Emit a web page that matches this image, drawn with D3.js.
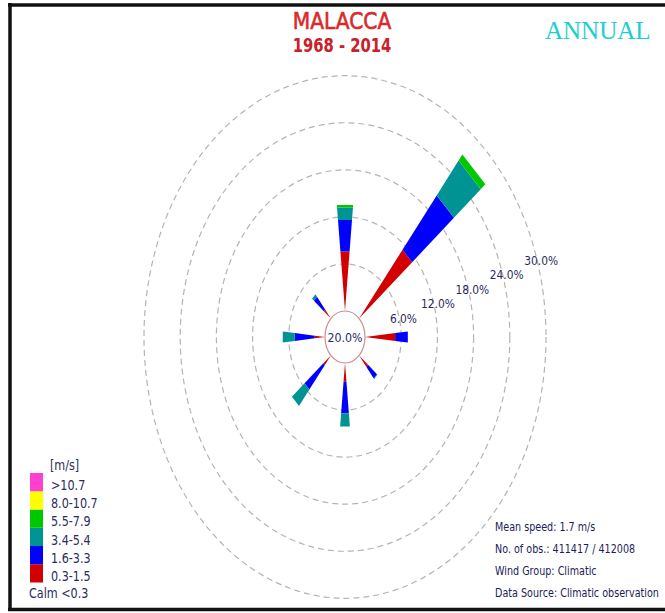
<!DOCTYPE html>
<html>
<head>
<meta charset="utf-8">
<script src="https://cdn.jsdelivr.net/npm/d3@7"></script>
<style>
body { margin: 0; background: #fff; }
svg text { font-family: "DejaVu Sans", Verdana, sans-serif; }
</style>
</head>
<body>
<svg id="rose" width="665" height="613"></svg>
<script>

// wind rose values: % of observations for each direction and speed class
var directions = ["N", "NE", "E", "SE", "S", "SW", "W", "NW"];
var dirAngles = [0, 45, 90, 135, 180, 225, 270, 315];
var speedClasses = ["0.3-1.5", "1.6-3.3", "3.4-5.4", "5.5-7.9", "8.0-10.7", ">10.7"];
var classColors = ["#d20000", "#0000ff", "#009393", "#00c800", "#ffff00", "#ff3fd0"];

var spd1 = [7.6, 11.3, 5.0, 1.9, 2.4, 1.6, 1.7, 1.5];   // 0.3-1.5
var spd2 = [4.0, 8.9, 2.1, 1.9, 4.0, 4.0, 3.3, 2.1];    // 1.6-3.3
var spd3 = [1.6, 5.7, 0.0, 0.1, 1.7, 2.7, 2.0, 0.4];    // 3.4-5.4
var spd4 = [0.3, 1.0, 0.0, 0.0, 0.0, 0.0, 0.0, 0.0];    // 5.5-7.9
var spd5 = [0, 0, 0, 0, 0, 0, 0, 0];                    // 8.0-10.7
var spd6 = [0, 0, 0, 0, 0, 0, 0, 0];                    // >10.7

var calmPct = 20.0;
var ringTicks = [6, 12, 18, 24, 30];
var infoLines = ["Mean speed: 1.7 m/s", "No. of obs.: 411417 / 412008", "Wind Group: Climatic", "Data Source: Climatic observation"];

var svg = d3.select("#rose");

var cx = 345, cy = 337;
var stretch = 1.3;      // picture is taller than wide
var spread = 0.1;       // wedge half width per unit of length

var r = d3.scaleLinear().domain([0, 30]).range([20, 201]);

// compress text horizontally, the source graphic is squeezed
function squeeze(sel, sx) {
    sel.each(function () {
        var t = d3.select(this);
        t.attr("transform", "translate(" + t.attr("x") + "," + t.attr("y") + ") scale(" + sx + ",1)")
            .attr("x", 0).attr("y", 0);
    });
}

// frame
svg.append("line").attr("x1", 10).attr("y1", 3).attr("x2", 10).attr("y2", 611)
    .style("stroke", "#111").style("stroke-width", 3.5);
svg.append("line").attr("x1", 8).attr("y1", 5).attr("x2", 665).attr("y2", 5)
    .style("stroke", "#111").style("stroke-width", 3.5);
svg.append("line").attr("x1", 8).attr("y1", 609.5).attr("x2", 665).attr("y2", 609.5)
    .style("stroke", "#111").style("stroke-width", 3.5);

// titles
svg.append("text").attr("x", 342).attr("y", 29).text("MALACCA")
    .attr("text-anchor", "middle").style("font-size", "23px").style("fill", "#d82a2a")
    .style("stroke", "#d82a2a").style("stroke-width", 0.6)
    .call(squeeze, 0.88);
svg.append("text").attr("x", 342).attr("y", 52).text("1968 - 2014")
    .attr("text-anchor", "middle").style("font-size", "20px").style("font-weight", "bold").style("fill", "#c92029")
    .call(squeeze, 0.74);
svg.append("text").attr("x", 545).attr("y", 39).text("ANNUAL")
    .style("font-family", "'Liberation Serif', 'Times New Roman', serif")
    .style("font-size", "25px").style("fill", "#1ccfcf");

// dashed rings
svg.selectAll("ellipse.ring")
    .data(ringTicks)
    .enter().append("ellipse")
    .attr("class", "ring")
    .attr("cx", cx).attr("cy", cy)
    .attr("rx", function (d) { return r(d); })
    .attr("ry", function (d) { return r(d) * stretch; })
    .style("fill", "none")
    .style("stroke", "#b4b4b4")
    .style("stroke-width", 1.2)
    .style("stroke-dasharray", "6,4");

// stacked wedges
var rows = directions.map(function (d, i) {
    var row = { dir: d, angle: dirAngles[i] };
    row[speedClasses[0]] = spd1[i];
    row[speedClasses[1]] = spd2[i];
    row[speedClasses[2]] = spd3[i];
    row[speedClasses[3]] = spd4[i];
    row[speedClasses[4]] = spd5[i];
    row[speedClasses[5]] = spd6[i];
    return row;
});

var stacked = d3.stack().keys(speedClasses)(rows);

// wedge piece pointing up, apex on the calm circle edge
function wedge(d) {
    var r0 = r(d[0]), r1 = r(d[1]);
    var w0 = (r0 - r(0)) * spread, w1 = (r1 - r(0)) * spread;
    return "M" + (-w0) + "," + (-r0) + "L" + w0 + "," + (-r0) +
        "L" + w1 + "," + (-r1) + "L" + (-w1) + "," + (-r1) + "Z";
}

var g = svg.append("g")
    .attr("transform", "translate(" + cx + "," + cy + ") scale(1," + stretch + ")");

g.selectAll("g.layer")
    .data(stacked)
    .enter().append("g")
    .attr("class", "layer")
    .style("fill", function (d, i) { return classColors[i]; })
    .selectAll("path")
    .data(function (d) { return d.filter(function (s) { return s[1] - s[0] > 0; }); })
    .enter().append("path")
    .attr("transform", function (d) { return "rotate(" + d.data.angle + ")"; })
    .attr("d", wedge);

// calm circle
svg.append("ellipse")
    .attr("cx", cx).attr("cy", cy)
    .attr("rx", r(0)).attr("ry", r(0) * stretch)
    .style("fill", "#fff")
    .style("stroke", "#c99090")
    .style("stroke-width", 1.2);

svg.append("text").attr("x", cx).attr("y", cy + 5)
    .attr("text-anchor", "middle")
    .text(calmPct.toFixed(1) + "%")
    .style("font-size", "13px").style("fill", "#2a2a5c")
    .call(squeeze, 0.85);

// ring labels
var labAngle = 72 * Math.PI / 180;
svg.selectAll("text.ringlab")
    .data(ringTicks)
    .enter().append("text")
    .attr("class", "ringlab")
    .attr("x", function (d) { return cx + r(d) * Math.sin(labAngle) + 5; })
    .attr("y", function (d) { return cy - r(d) * stretch * Math.cos(labAngle) + 8.5; })
    .attr("text-anchor", "middle")
    .text(function (d) { return d.toFixed(1) + "%"; })
    .style("font-size", "13px").style("fill", "#2a2a5c")
    .call(squeeze, 0.82);

// legend
var legY = d3.scaleBand().domain(speedClasses.slice().reverse()).range([473, 582.5]);

var leg = svg.append("g");
leg.selectAll("rect")
    .data(speedClasses)
    .enter().append("rect")
    .attr("x", 30)
    .attr("y", function (d) { return legY(d); })
    .attr("width", 13)
    .attr("height", legY.bandwidth())
    .style("fill", function (d, i) { return classColors[i]; });

leg.selectAll("text.leglab")
    .data(speedClasses)
    .enter().append("text")
    .attr("class", "leglab")
    .attr("x", 51)
    .attr("y", function (d) { return legY(d) + legY.bandwidth() - 1.5; })
    .text(function (d) { return d; })
    .style("font-size", "14px").style("fill", "#2c2c5e")
    .call(squeeze, 0.8);

leg.append("text").attr("x", 50).attr("y", 470).text("[m/s]")
    .style("font-size", "14px").style("fill", "#2c2c5e")
    .call(squeeze, 0.8);
leg.append("text").attr("x", 29).attr("y", 598).text("Calm <0.3")
    .style("font-size", "14px").style("fill", "#2c2c5e")
    .call(squeeze, 0.8);

// info text
svg.selectAll("text.info")
    .data(infoLines)
    .enter().append("text")
    .attr("class", "info")
    .attr("x", 495)
    .attr("y", function (d, i) { return 531 + i * 22; })
    .text(function (d) { return d; })
    .style("font-size", "12px").style("fill", "#1c1c58")
    .call(squeeze, 0.8);

</script>
</body>
</html>
